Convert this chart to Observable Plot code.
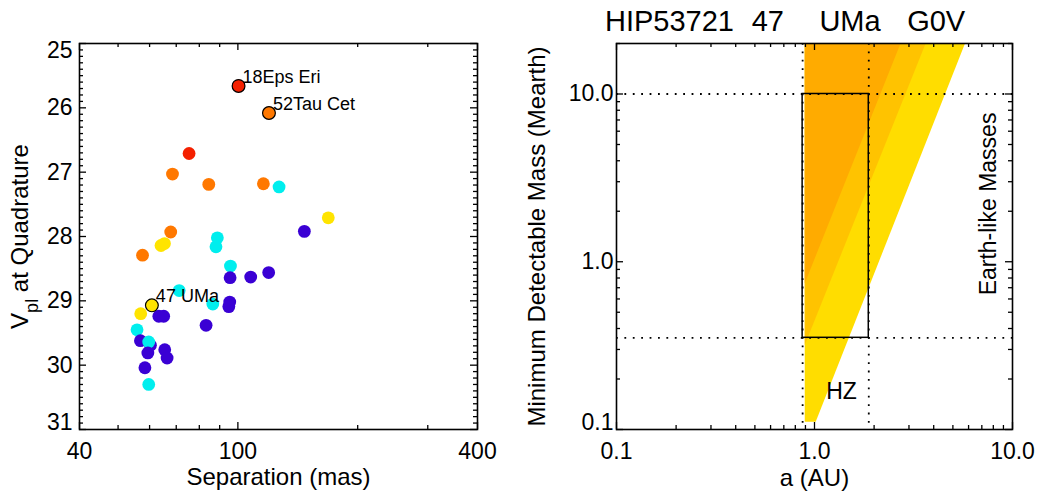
<!DOCTYPE html>
<html><head><meta charset="utf-8">
<script src="https://cdn.jsdelivr.net/npm/d3@7"></script>
<script src="https://cdn.jsdelivr.net/npm/@observablehq/plot@0.6"></script>
<style>
body{margin:0;background:#fff;}
#wrap{position:relative;width:1046px;height:494px;overflow:hidden;font-family:"Liberation Sans",Arial,Helvetica,sans-serif;background:#fff;}
#left{position:absolute;left:0;top:0;}
#right{position:absolute;left:520px;top:0;}
#title{position:absolute;left:605px;top:7px;font-size:29px;line-height:29px;white-space:pre;color:#000;word-spacing:0.8px;}
</style></head><body>
<div id="wrap"><div id="left"></div><div id="right"></div><div id="title"></div></div>
<script>
// ---------- Left panel data ----------
const separation = [100.4,119.7,75.4,68.5,84.5,115.9,126.9,168.7,146.9,67.8,64.1,65.4,57.6,88.8,88.1,95.8,95.6,107.7,119.5,71.2,60.8,57.0,86.5,95.4,94.9,63.3,65.1,83.2,55.8,56.9,60.3,59.7,59.4,65.5,66.4,58.4,59.7];
const vpl = [25.66,26.08,26.71,27.03,27.19,27.18,27.23,27.71,27.92,27.93,28.14,28.11,28.29,28.02,28.16,28.46,28.64,28.63,28.56,28.84,29.07,29.20,29.05,29.02,29.09,29.24,29.24,29.38,29.45,29.62,29.69,29.64,29.81,29.76,29.89,30.04,30.30];
const colorClass = ["red","orange","red","orange","orange","orange","cyan","yellow","blue","orange","yellow","yellow","orange","cyan","cyan","cyan","blue","blue","blue","cyan","yellow","yellow","cyan","blue","blue","blue","blue","blue","cyan","blue","blue","cyan","blue","blue","blue","blue","cyan"];
const starLabel = ["18Eps Eri","52Tau Cet","","","","","","","","","","","","","","","","","","","47 UMa","","","","","","","","","","","","","","","",""];
const classes = ["red","orange","yellow","cyan","blue"];
const classColors = ["#f42000","#ff7800","#ffe400","#00eeee","#3a00d4"];
const xTickLabelsL = [40,100,400];
const xMinorL = [50,60,70,80,90,200,300];
const yTickLabelsL = [25,26,27,28,29,30,31];
const yLabelParts = ["V","pl"," at Quadrature"];
const xTitleL = "Separation (mas)";

// ---------- Right panel data ----------
const titleText = "HIP53721  47    UMa   G0V";
const aHZ = [0.871, 1.88];
const mBox = [0.352, 10];
const aInner = 0.898;
const mCeil = 20;
const bandColor = ["#ffdd00","#ffc300","#ffab00"];
const bandTopA = [5.80, 3.67, 2.74];
const bandFootA = [1.02, 0.898, 0.898];
const bandFootM = [0.1105, 0.317, 0.738];
const xTickLabelsR = [0.1, 1, 10];
const yTickLabelsR = [0.1, 1, 10];
const xTitleR = "a (AU)";
const yTitleR = "Minimum Detectable Mass (Mearth)";
const notes = [{text:"HZ", a:1.369, m:0.169, rotate:0}, {text:"Earth-like Masses", a:7.59, m:2.21, rotate:-90}];

const font = '"Liberation Sans", Arial, Helvetica, sans-serif';
const H = 494, mT = 43, mB = 65;
const fh = H - mT - mB;
const colorOf = c => classColors[classes.indexOf(c)];

// ---------- Left plot ----------
const WL = 520, mLL = 79, mRL = 43, fwL = WL - mLL - mRL;
const leftData = separation.map((s,i)=>({sep:s, v:vpl[i], c:colorClass[i], label:starLabel[i]}));
const yMinorL = d3.range(251,310).filter(d=>d%10).map(d=>d/10);
const MAJ = 7, MIN = 4;
const tickStyle = {stroke:"black", strokeWidth:1.3};

const left = Plot.plot({
  width: WL, height: H, marginLeft: mLL, marginRight: mRL, marginTop: mT, marginBottom: mB,
  style: {fontFamily: font, fontSize: "23px", background: "white", color: "black", overflow: "visible"},
  x: {type: "log", domain: [40, 400]},
  y: {domain: [31, 25]},
  marks: [
    Plot.ruleX(xTickLabelsL, {...tickStyle, insetTop: fh - MAJ}),
    Plot.ruleX(xTickLabelsL, {...tickStyle, insetBottom: fh - MAJ}),
    Plot.ruleX(xMinorL, {...tickStyle, insetTop: fh - MIN}),
    Plot.ruleX(xMinorL, {...tickStyle, insetBottom: fh - MIN}),
    Plot.ruleY(yTickLabelsL, {...tickStyle, insetRight: fwL - MAJ}),
    Plot.ruleY(yTickLabelsL, {...tickStyle, insetLeft: fwL - MAJ}),
    Plot.ruleY(yMinorL, {...tickStyle, insetRight: fwL - MIN}),
    Plot.ruleY(yMinorL, {...tickStyle, insetLeft: fwL - MIN}),
    Plot.axisX(xTickLabelsL, {tickSize: 0, tickPadding: 13, tickFormat: d => String(d), label: null}),
    Plot.axisY(yTickLabelsL.slice(1, -1), {tickSize: 0, tickPadding: 7, tickFormat: d => String(d), label: null}),
    Plot.axisY(yTickLabelsL.slice(0, 1), {tickSize: 0, tickPadding: 7, tickFormat: d => String(d), label: null, dy: 7}),
    Plot.axisY(yTickLabelsL.slice(-1), {tickSize: 0, tickPadding: 7, tickFormat: d => String(d), label: null, dy: -7}),
    Plot.dot(leftData, {x: "sep", y: "v", fill: d => colorOf(d.c), r: 6.4}),
    Plot.dot(leftData.filter(d => d.label), {x: "sep", y: "v", fill: d => colorOf(d.c), r: 6.4, stroke: "black", strokeWidth: 1.2}),
    Plot.text(leftData.filter(d => d.label), {x: "sep", y: "v", text: "label", textAnchor: "start", dx: 4, dy: -9, fontSize: 18}),
    Plot.text([xTitleL], {text: d => d, frameAnchor: "bottom", lineAnchor: "middle", dy: 48, fontSize: 24}),
    Plot.frame({stroke: "black", strokeWidth: 1.6})
  ]
});
document.getElementById("left").appendChild(left);
// y title with subscript
{
  const t = d3.select(left).append("text")
    .attr("transform", "translate(19.5,236.5) rotate(-90)")
    .attr("text-anchor", "middle")
    .attr("font-family", font)
    .attr("font-size", 24)
    .attr("dy", "0.36em")
    .attr("fill", "black");
  t.append("tspan").text(yLabelParts[0]);
  t.append("tspan").attr("font-size", 18).attr("dy", 10).text(yLabelParts[1]);
  t.append("tspan").attr("dy", -10).text(yLabelParts[2]);
}

// ---------- Right plot ----------
const WR = 526, mLR = 96, mRR = 34, fwR = WR - mLR - mRR;
const xMinorR = [0.2,0.3,0.4,0.5,0.6,0.7,0.8,0.9,2,3,4,5,6,7,8,9];
const yMinorR = [0.2,0.3,0.4,0.5,0.6,0.7,0.8,0.9,2,3,4,5,6,7,8,9,20];
const dotted = {stroke: "black", strokeWidth: 1.8, strokeDasharray: "1.8,6.6"};
const fmt1 = d => d.toFixed(1);

const bandMarks = bandColor.map((col, i) =>
  Plot.areaX([{m: bandFootM[i], a2: bandFootA[i]}, {m: mCeil, a2: bandTopA[i]}],
    {y: "m", x1: aInner, x2: "a2", fill: col}));

const right = Plot.plot({
  width: WR, height: H, marginLeft: mLR, marginRight: mRR, marginTop: mT, marginBottom: mB,
  style: {fontFamily: font, fontSize: "23px", background: "white", color: "black", overflow: "visible"},
  x: {type: "log", domain: [0.1, 10]},
  y: {type: "log", domain: [0.1, mCeil]},
  marks: [
    ...bandMarks,
    Plot.ruleX(aHZ, dotted),
    Plot.ruleY(mBox, dotted),
    Plot.rect([{a1: aHZ[0], a2: aHZ[1], m1: mBox[0], m2: mBox[1]}], {x1: "a1", x2: "a2", y1: "m1", y2: "m2", fill: "none", stroke: "black", strokeWidth: 1.5}),
    Plot.ruleX(xTickLabelsR, {...tickStyle, insetTop: fh - MAJ}),
    Plot.ruleX(xTickLabelsR, {...tickStyle, insetBottom: fh - MAJ}),
    Plot.ruleX(xMinorR, {...tickStyle, insetTop: fh - MIN}),
    Plot.ruleX(xMinorR, {...tickStyle, insetBottom: fh - MIN}),
    Plot.ruleY(yTickLabelsR, {...tickStyle, insetRight: fwR - MAJ}),
    Plot.ruleY(yTickLabelsR, {...tickStyle, insetLeft: fwR - MAJ}),
    Plot.ruleY(yMinorR, {...tickStyle, insetRight: fwR - MIN}),
    Plot.ruleY(yMinorR, {...tickStyle, insetLeft: fwR - MIN}),
    Plot.axisX(xTickLabelsR, {tickSize: 0, tickPadding: 13, tickFormat: fmt1, label: null}),
    Plot.axisY(yTickLabelsR.slice(1), {tickSize: 0, tickPadding: 3, tickFormat: fmt1, label: null}),
    Plot.axisY(yTickLabelsR.slice(0, 1), {tickSize: 0, tickPadding: 3, tickFormat: fmt1, label: null, dy: -7}),
    Plot.text(notes.filter(d => d.rotate === 0), {x: "a", y: "m", text: "text", fontSize: 23}),
    Plot.text(notes.filter(d => d.rotate !== 0), {x: "a", y: "m", text: "text", fontSize: 23, rotate: -90}),
    Plot.text([xTitleR], {text: d => d, frameAnchor: "bottom", lineAnchor: "middle", dy: 49, fontSize: 24}),
    Plot.text([yTitleR], {text: d => d, frameAnchor: "left", textAnchor: "middle", lineAnchor: "middle", dx: -79, rotate: -90, fontSize: 24}),
    Plot.frame({stroke: "black", strokeWidth: 1.6})
  ]
});
document.getElementById("right").appendChild(right);
document.getElementById("title").textContent = titleText;
</script>
</body></html>
